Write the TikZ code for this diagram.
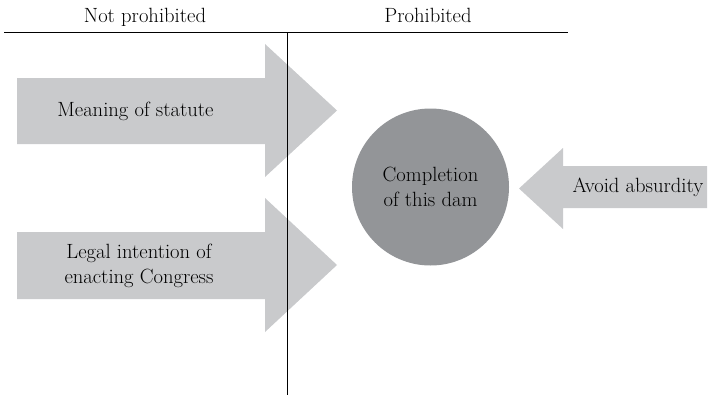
\documentclass[tikz,border=0pt]{standalone}
\usepackage{fontspec}
\begin{document}
\begin{tikzpicture}[x=1pt,y=-1pt,
  txt/.style={font=\fontsize{20.6}{25}\selectfont, text=black, align=center, inner sep=0pt},
  bigarrow/.style={fill=arrowgray, draw=none},
  rule/.style={draw=black, line width=1pt}]
\definecolor{arrowgray}{HTML}{C9CACC}
\definecolor{circlegray}{HTML}{939598}
\useasboundingbox (0,0) rectangle (711,396);

% forces on the left
\fill[bigarrow] (17,78) -- (265,78) -- (265,44) -- (337,110.5) -- (265,177) -- (265,144) -- (17,144) -- cycle;
\fill[bigarrow] (17,232) -- (265,232) -- (265,198) -- (337,265) -- (265,332) -- (265,299) -- (17,299) -- cycle;
% counter force on the right
\fill[bigarrow] (707,166) -- (563,166) -- (563,148) -- (519,188.5) -- (563,229) -- (563,208) -- (707,208) -- cycle;

% the outcome
\node[circle, fill=circlegray, minimum size=157pt, inner sep=0pt] (dam) at (430.5,187) {};
\node[txt] (damtxt) at (dam.center) {Completion\\of this dam};

\node[txt] (meaning) at (135.5,111) {Meaning of statute};
\node[txt] (intent) at (139,265.5) {Legal intention of\\enacting Congress};
\node[txt] (absurd) at (638,187) {Avoid absurdity};

% header and divider
\coordinate (hl) at (4,32.5);
\coordinate (hr) at (568,32.5);
\coordinate (vt) at (287,32.5);
\coordinate (vb) at (287,395);
\draw[rule] (hl) -- (hr);
\draw[rule] (vt) -- (vb);
\node[txt, anchor=base] (notproh) at (145,22.5) {Not prohibited};
\node[txt, anchor=base] (proh) at (428,22.5) {Prohibited};
\end{tikzpicture}
\end{document}
